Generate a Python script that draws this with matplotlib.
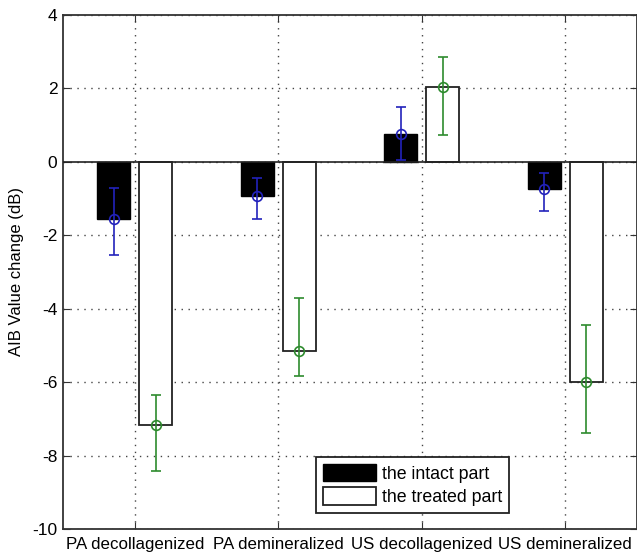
import numpy as np
import matplotlib.pyplot as plt
from matplotlib.patches import Patch

plt.rcParams['font.family'] = ['Liberation Sans', 'DejaVu Sans']

groups = ['PA decollagenized', 'PA demineralized', 'US decollagenized', 'US demineralized']
intact = [-1.57, -0.93, 0.77, -0.74]
intact_lo = [0.96, 0.64, 0.72, 0.59]
intact_hi = [0.85, 0.48, 0.72, 0.43]
treated = [-7.16, -5.16, 2.03, -6.0]
treated_lo = [1.25, 0.68, 1.31, 1.38]
treated_hi = [0.82, 1.44, 0.82, 1.56]

fig = plt.figure(figsize=(6.37, 5.58), dpi=100)
ax = fig.add_axes([63 / 637, 1 - 529 / 558, 1 - 63 / 637, (529 - 15) / 558])

x = np.arange(1, len(groups) + 1)
w = 0.23
off = 0.145
ax.bar(x - off, intact, w, color='black', edgecolor='black', linewidth=1, zorder=2)
ax.bar(x + off, treated, w, color='white', edgecolor='#222222', linewidth=1.3, zorder=2)
ax.axhline(0, color='#222222', linewidth=1.2, zorder=3)

ax.errorbar(x - off, intact, yerr=[intact_lo, intact_hi], fmt='o', mfc='none',
            mec='#2222bb', ecolor='#2222bb', ms=7, mew=1.2, elinewidth=1.2,
            capsize=3.6, capthick=1.2, zorder=4)
ax.errorbar(x + off, treated, yerr=[treated_lo, treated_hi], fmt='o', mfc='none',
            mec='#2e8b2e', ecolor='#2e8b2e', ms=7, mew=1.2, elinewidth=1.2,
            capsize=3.6, capthick=1.2, zorder=4)

ax.set_xlim(0.5, 4.5)
ax.set_ylim(-10, 4)
ax.set_xticks(x)
ax.set_xticklabels(groups, fontsize=12.2)
ax.set_yticks(np.arange(-10, 5, 2))
ax.set_yticklabels([str(v) for v in range(-10, 5, 2)], fontsize=12.5)
ax.tick_params(direction='in', length=5, top=True, right=True, color='#333333', pad=4)
ax.tick_params(axis='x', pad=6)
ax.grid(True, linestyle=(0, (1, 4)), color='#444444', linewidth=1, zorder=1)
ax.set_axisbelow(True)
for s in ax.spines.values():
    s.set_color('#333333')
    s.set_linewidth(1.3)
ax.set_ylabel('AIB Value change (dB)', fontsize=12, labelpad=6)

handles = [Patch(facecolor='black', edgecolor='black'),
           Patch(facecolor='white', edgecolor='#222222', linewidth=1.3)]
leg = ax.legend(handles, ['the intact part', 'the treated part'], fontsize=12.8,
                loc='lower left', bbox_to_anchor=(316 / 637, 1 - 513 / 558),
                bbox_transform=fig.transFigure, fancybox=False, framealpha=1,
                edgecolor='#222222', handlelength=3.0, handleheight=1.15,
                handletextpad=0.3, borderpad=0.4, labelspacing=0.25,
                borderaxespad=0)
leg.get_frame().set_linewidth(1.3)

fig.savefig('out.png', dpi=100)
